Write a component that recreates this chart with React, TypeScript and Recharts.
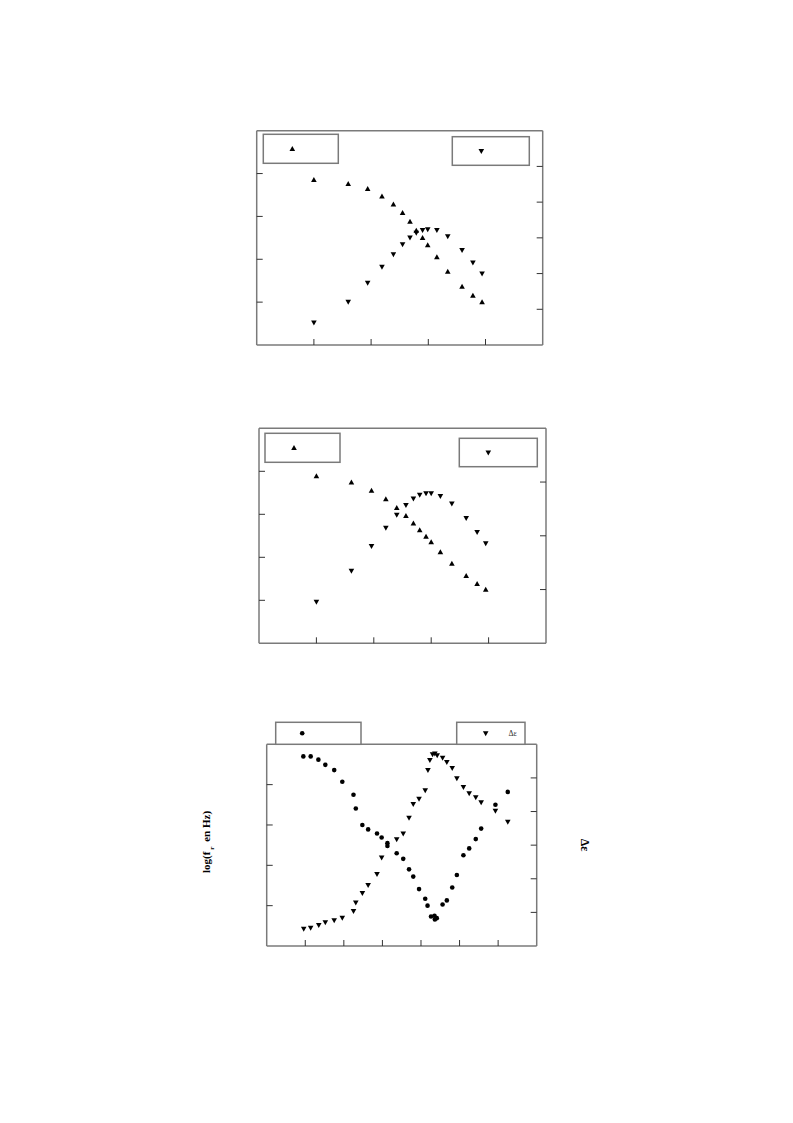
import React from "react";
import { ScatterChart, Scatter, XAxis, YAxis } from "recharts";

// panel 1 (top)
const X1 = [1.0, 1.6, 1.94, 2.19, 2.39, 2.55, 2.68, 2.79, 2.9, 2.99, 3.15, 3.34, 3.59, 3.78, 3.94];
const UP1 = [3.85, 3.76, 3.64, 3.47, 3.28, 3.08, 2.88, 2.67, 2.5, 2.33, 2.05, 1.71, 1.36, 1.15, 1.0];
const DOWN1 = [0.63, 1.21, 1.74, 2.19, 2.54, 2.82, 3.01, 3.14, 3.22, 3.24, 3.22, 3.04, 2.66, 2.31, 2.0];

// panel 2 (middle)
const X2 = [1.0, 1.61, 1.96, 2.21, 2.4, 2.56, 2.69, 2.8, 2.91, 3.0, 3.16, 3.36, 3.61, 3.8, 3.95];
const UP2 = [3.89, 3.74, 3.55, 3.35, 3.15, 2.96, 2.79, 2.63, 2.48, 2.35, 2.12, 1.85, 1.57, 1.38, 1.25];
const DOWN2 = [0.77, 1.35, 1.81, 2.15, 2.39, 2.57, 2.69, 2.76, 2.79, 2.79, 2.74, 2.6, 2.33, 2.07, 1.86];

// panel 3 (bottom): dots = log(fr), triangles = delta epsilon
const DOT3_X = [0.95, 1.14, 1.34, 1.52, 1.75, 1.96, 2.25, 2.31, 2.48, 2.63, 2.86, 2.98, 3.13, 3.13, 3.37, 3.54, 3.69, 3.8, 3.95, 4.11, 4.17, 4.26, 4.35, 4.41, 4.36, 4.56, 4.67, 4.81, 4.93, 5.1, 5.25, 5.42, 5.56, 5.93, 6.25];
const DOT3_Y = [4.7, 4.7, 4.62, 4.49, 4.36, 4.07, 3.75, 3.41, 3.0, 2.89, 2.79, 2.69, 2.55, 2.48, 2.3, 2.16, 1.9, 1.72, 1.41, 1.17, 1.0, 0.73, 0.75, 0.69, 0.66, 1.03, 1.13, 1.45, 1.76, 2.25, 2.42, 2.65, 2.91, 3.5, 3.82];
const TRI3_X = [0.96, 1.14, 1.35, 1.52, 1.75, 1.96, 2.25, 2.31, 2.48, 2.63, 2.86, 2.98, 3.37, 3.54, 3.69, 3.8, 3.95, 4.11, 4.18, 4.23, 4.3, 4.36, 4.42, 4.56, 4.67, 4.81, 4.93, 5.1, 5.25, 5.42, 5.56, 5.93, 6.25];
const TRI3_Y = [0.51, 0.54, 0.62, 0.7, 0.76, 0.84, 1.04, 1.29, 1.57, 1.81, 2.14, 2.63, 3.17, 3.34, 3.81, 4.22, 4.38, 4.63, 5.23, 5.53, 5.7, 5.72, 5.67, 5.6, 5.47, 5.29, 4.99, 4.73, 4.54, 4.42, 4.27, 4.02, 3.69];

const FRAME = "#7a7a7a";
const TICK = "#333";
const SERIF = "'Liberation Serif', 'Times New Roman', serif";

const zip = (xs: number[], ys: number[]) => xs.map((x, i) => ({ x, y: ys[i] }));

const NoTick = () => <g />;

const UpTri = (p: any) => (
  <path d={`M${p.cx},${p.cy - 2.9}L${p.cx + 2.8},${p.cy + 2.1}L${p.cx - 2.8},${p.cy + 2.1}Z`} fill="#000" />
);
const DownTri = (p: any) => (
  <path d={`M${p.cx - 2.8},${p.cy - 2.1}L${p.cx + 2.8},${p.cy - 2.1}L${p.cx},${p.cy + 2.9}Z`} fill="#000" />
);
const Dot = (p: any) => <circle cx={p.cx} cy={p.cy} r={2.3} fill="#000" />;

const axisLine = { stroke: FRAME, strokeWidth: 1.5 };
const tickLine = { stroke: TICK, strokeWidth: 1 };

function Panel({ left, top, width, height, margin, xMax, xTicks, lMax, lTicks, rMax, rTicks, series }: any) {
  return (
    <div style={{ position: "absolute", left, top }}>
      <ScatterChart width={width} height={height} margin={margin}>
        <XAxis xAxisId="b" type="number" dataKey="x" domain={[0, xMax]} ticks={xTicks} interval={0}
          tick={NoTick} mirror tickSize={6} axisLine={axisLine} tickLine={tickLine} allowDataOverflow />
        <XAxis xAxisId="t" orientation="top" type="number" dataKey="x" domain={[0, xMax]}
          tick={false} tickLine={false} mirror axisLine={axisLine} />
        <YAxis yAxisId="l" orientation="left" type="number" dataKey="y" domain={[0, lMax]} ticks={lTicks} interval={0}
          tick={NoTick} mirror tickSize={6} axisLine={axisLine} tickLine={tickLine} allowDataOverflow />
        <YAxis yAxisId="r" orientation="right" type="number" dataKey="y" domain={[0, rMax]} ticks={rTicks} interval={0}
          tick={NoTick} mirror tickSize={6} axisLine={axisLine} tickLine={tickLine} allowDataOverflow />
        {series.map((s: any, i: number) => (
          <Scatter key={i} data={s.data} xAxisId="b" yAxisId={s.axis} shape={s.shape} isAnimationActive={false} />
        ))}
      </ScatterChart>
    </div>
  );
}

function LegendBox({ x, y, w, h, marker, text }: any) {
  const mx = x + 29;
  const my = y + h / 2;
  return (
    <g>
      <rect x={x} y={y} width={w} height={h} fill="#fff" stroke={FRAME} strokeWidth={1.5} />
      {marker === "up" && <UpTri cx={mx} cy={my} />}
      {marker === "down" && <DownTri cx={mx} cy={my} />}
      {marker === "dot" && <Dot cx={mx - 2.5} cy={my} />}
      {text && (
        <text x={mx + 27} y={my + 3} fontFamily={SERIF} fontSize={8} fill="#333" textAnchor="middle">{text}</text>
      )}
    </g>
  );
}

export default function App() {
  return (
    <div style={{ position: "absolute", left: 0, top: 0, width: 793, height: 1123, background: "#fff" }}>
      <Panel left={250} top={120} width={300} height={235}
        margin={{ top: 10.7, left: 6.7, right: 7.3, bottom: 10 }}
        xMax={5} xTicks={[1, 2, 3, 4]} lMax={5} lTicks={[1, 2, 3, 4]} rMax={6} rTicks={[1, 2, 3, 4, 5]}
        series={[
          { data: zip(X1, UP1), axis: "l", shape: UpTri },
          { data: zip(X1, DOWN1), axis: "r", shape: DownTri },
        ]} />
      <Panel left={250} top={420} width={300} height={235}
        margin={{ top: 8.3, left: 9, right: 4, bottom: 11.7 }}
        xMax={5} xTicks={[1, 2, 3, 4]} lMax={5} lTicks={[1, 2, 3, 4]} rMax={4} rTicks={[1, 2, 3]}
        series={[
          { data: zip(X2, UP2), axis: "l", shape: UpTri },
          { data: zip(X2, DOWN2), axis: "r", shape: DownTri },
        ]} />
      <Panel left={250} top={735} width={300} height={225}
        margin={{ top: 9.3, left: 16.7, right: 13.3, bottom: 14 }}
        xMax={7} xTicks={[1, 2, 3, 4, 5, 6]} lMax={5} lTicks={[1, 2, 3, 4]} rMax={6} rTicks={[1, 2, 3, 4, 5]}
        series={[
          { data: zip(DOT3_X, DOT3_Y), axis: "l", shape: Dot },
          { data: zip(TRI3_X, TRI3_Y), axis: "r", shape: DownTri },
        ]} />
      <svg width={793} height={1123} style={{ position: "absolute", left: 0, top: 0, pointerEvents: "none" }}>
        <LegendBox x={263.3} y={134.3} w={75} h={29} marker="up" />
        <LegendBox x={452.3} y={136.7} w={77} h={28.6} marker="down" />
        <LegendBox x={265} y={433.3} w={75} h={29} marker="up" />
        <LegendBox x={459.3} y={438.3} w={78} h={28.4} marker="down" />
        <LegendBox x={275.7} y={722.3} w={85.3} h={22} marker="dot" />
        <LegendBox x={456.7} y={722.3} w={68.3} h={22} marker="down" text="Δε" />
        <text transform="translate(210,842) rotate(-90)" textAnchor="middle" fontFamily={SERIF}
          fontWeight="bold" fontSize={11} fill="#000">
          log(f
          <tspan fontSize={7} dx={2} dy={4}>r</tspan>
          <tspan dx={2} dy={-4}> en Hz)</tspan>
        </text>
        <text transform="translate(581,845) rotate(90)" textAnchor="middle" fontFamily={SERIF}
          fontWeight="bold" fontSize={12} fill="#000">Δε</text>
      </svg>
    </div>
  );
}
